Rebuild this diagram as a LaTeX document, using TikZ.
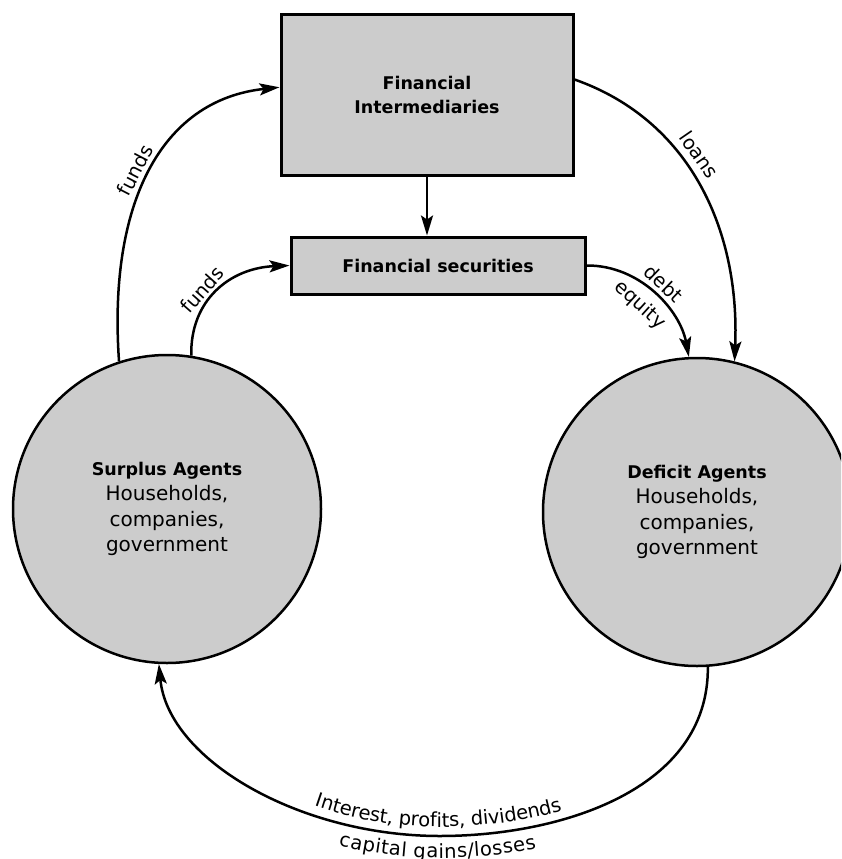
\documentclass[tikz,border=0pt]{standalone}
\usepackage{fontspec}
\setmainfont{DejaVu Sans}
\usetikzlibrary{arrows.meta,decorations.text,calc}
\definecolor{fillgray}{RGB}{204,204,204}
\newcommand\lblfont{\fontsize{19.5}{22}\selectfont}
\begin{document}
\begin{tikzpicture}[x=1pt,y=-1pt,
  box/.style={draw, line width=3pt, fill=fillgray, inner sep=0pt, align=center,
    font=\fontsize{17.5}{24}\selectfont\bfseries},
  agent/.style={circle, draw, line width=2.5pt, fill=fillgray, minimum size=308pt,
    inner sep=0pt, align=center, font=\fontsize{20}{25.5}\selectfont},
  flow/.style={line width=2.5pt, -{Stealth[length=20pt,width=12pt,inset=4pt]}},
  lab/.style={font=\lblfont, sloped, inner sep=4pt},
]
\useasboundingbox (0,0) rectangle (841,859);
\clip (0,0) rectangle (841,859);

\node[box, minimum width=292pt, minimum height=160pt] (FI) at (427,95) {Financial\\Intermediaries};
\node[box, minimum width=294pt, minimum height=57pt] (FS) at (438,265.5) {Financial securities};
\node[agent] (SA) at (167,509) {{\bfseries\fontsize{17.5}{25.5}\selectfont Surplus Agents}\\Households,\\companies,\\government};
\node[agent] (DA) at (697,512) {{\bfseries\fontsize{17.5}{25.5}\selectfont Deficit Agents}\\Households,\\companies,\\government};
\coordinate (bot) at (440,836);

\draw[flow] (FI.south) -- (FI.south |- FS.north);
\draw[flow] (SA.108) .. controls (108,205) and (160,100) .. (FI.177)
  node[lab, pos=.48, above, inner sep=5pt] {funds};
\draw[flow] (SA.81.5) .. controls (190,300) and (230,268) .. (FS.west)
  node[lab, pos=.43, above, inner sep=3pt] {funds};
\draw[flow] (FI.6.6) .. controls (690,120) and (740,230) .. (DA.76.7)
  node[lab, pos=.42, above, inner sep=7pt] {loans};
\draw[flow] (FS.east) .. controls (640,265) and (680,310) .. (DA.93.3)
  node[lab, pos=.5, above, inner sep=5pt] {debt}
  node[lab, pos=.48, below, inner sep=8pt] {equity};
\draw[flow] (DA.274.4) .. controls (709,790) and (560,836) .. (bot)
  .. controls (300,836) and (168,760) .. (SA.267.5);

\path[decorate, decoration={text along path, text={|\lblfont|Interest, profits, dividends},
  text align=center, raise=9pt}]
  (SA.267.5) .. controls (168,760) and (300,836) .. (bot)
  .. controls (560,836) and (709,790) .. (DA.274.4);
\path[decorate, decoration={text along path, text={|\lblfont|capital gains/losses},
  text align=center, raise=-22pt}]
  (SA.267.5) .. controls (168,760) and (300,836) .. (bot)
  .. controls (560,836) and (709,790) .. (DA.274.4);
\end{tikzpicture}
\end{document}
